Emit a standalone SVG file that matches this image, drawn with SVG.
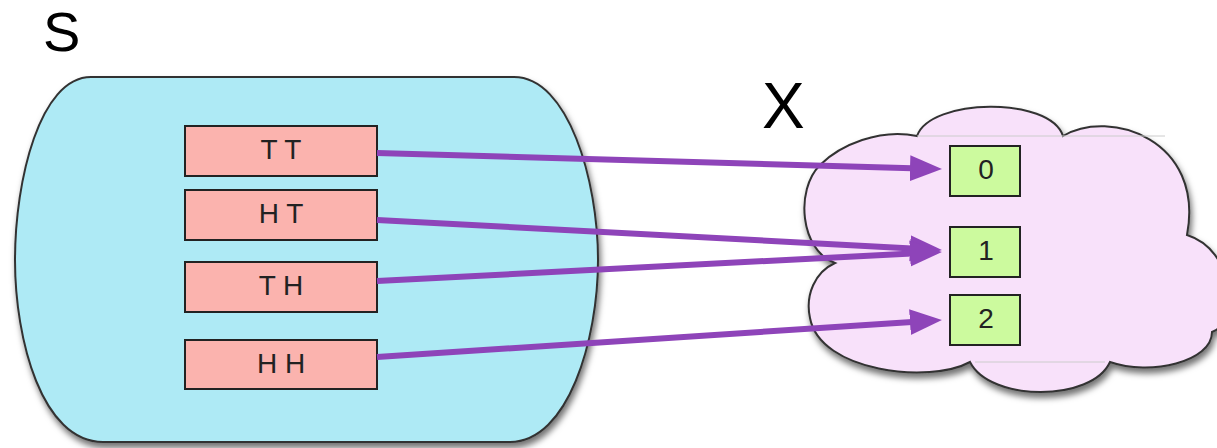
<svg xmlns="http://www.w3.org/2000/svg" width="1217" height="448" viewBox="0 0 1217 448">
<style>
.lbl{font-family:"Liberation Sans",Arial,sans-serif;fill:#000}
.t{font-family:"Liberation Sans",Arial,sans-serif;font-size:28px;fill:#222;text-anchor:middle}
.pink{fill:#fbb3ae;stroke:#222;stroke-width:2}
.green{fill:#ccfa9e;stroke:#222;stroke-width:2}
.arrow{stroke:#8e44b9;stroke-width:6;fill:none;marker-end:url(#ah)}
</style>
<defs>
<filter id="sh" x="-10%" y="-10%" width="120%" height="125%">
<feDropShadow dx="2" dy="5" stdDeviation="3" flood-color="#000" flood-opacity="0.55"/>
</filter>
<marker id="ah" markerUnits="userSpaceOnUse" markerWidth="34" markerHeight="28" refX="2" refY="13" orient="auto" viewBox="0 0 34 26">
<path d="M0,0 L32,13 L0,26 z" fill="#8e44b9"/>
</marker>
</defs>
<rect width="1217" height="448" fill="#fff"/>
<g id="S-set">
<path d="M 91 77 L 514 77 C 568 77, 598 180, 598 260 C 598 340, 568 442, 510 442 L 103 442 C 42 442, 15 340, 15 260 C 15 180, 40 77, 91 77 Z" fill="#aeeaf5" stroke="#333" stroke-width="2" filter="url(#sh)"/>
<text class="lbl" font-size="56" x="43" y="51">S</text>
</g>
<g id="X-set">
<path d="M 917 136 C 930 98, 1050 96, 1063 136 C 1110 108, 1205 140, 1187 235 C 1235 250, 1240 322, 1212 332 C 1212 362, 1150 376, 1110 362 C 1092 402, 990 402, 970 362 C 930 384, 820 372, 810 318 C 805 295, 815 272, 835 263 C 800 250, 795 190, 820 165 C 840 145, 880 128, 917 136 Z" fill="#f8e1fa" stroke="#333" stroke-width="2" filter="url(#sh)"/>
<line x1="917" y1="136" x2="1165" y2="136" stroke="#ccc" stroke-width="1"/>
<line x1="975" y1="362" x2="1105" y2="362" stroke="#ccc" stroke-width="1"/>
<text class="lbl" font-size="64" x="762" y="128">X</text>
</g>
<g id="s-TT"><rect class="pink" x="185" y="126" width="192" height="50"/><text class="t" x="281" y="159">T T</text></g>
<g id="s-HT"><rect class="pink" x="185" y="190" width="192" height="50"/><text class="t" x="281" y="223">H T</text></g>
<g id="s-TH"><rect class="pink" x="185" y="262" width="192" height="50"/><text class="t" x="281" y="295">T H</text></g>
<g id="s-HH"><rect class="pink" x="185" y="340" width="192" height="49"/><text class="t" x="281" y="373">H H</text></g>
<g id="x-0"><rect class="green" x="950" y="146" width="70" height="50"/><text class="t" x="986" y="179">0</text></g>
<g id="x-1"><rect class="green" x="950" y="227" width="70" height="50"/><text class="t" x="986" y="260">1</text></g>
<g id="x-2"><rect class="green" x="950" y="295" width="70" height="50"/><text class="t" x="986" y="328">2</text></g>
<g id="connectors">
<line class="arrow" x1="377" y1="153" x2="912" y2="168.2"/>
<line class="arrow" x1="377" y1="220" x2="912" y2="248.4"/>
<line class="arrow" x1="377" y1="281" x2="912" y2="253.5"/>
<line class="arrow" x1="377" y1="357" x2="912" y2="322"/>
</g>
</svg>
